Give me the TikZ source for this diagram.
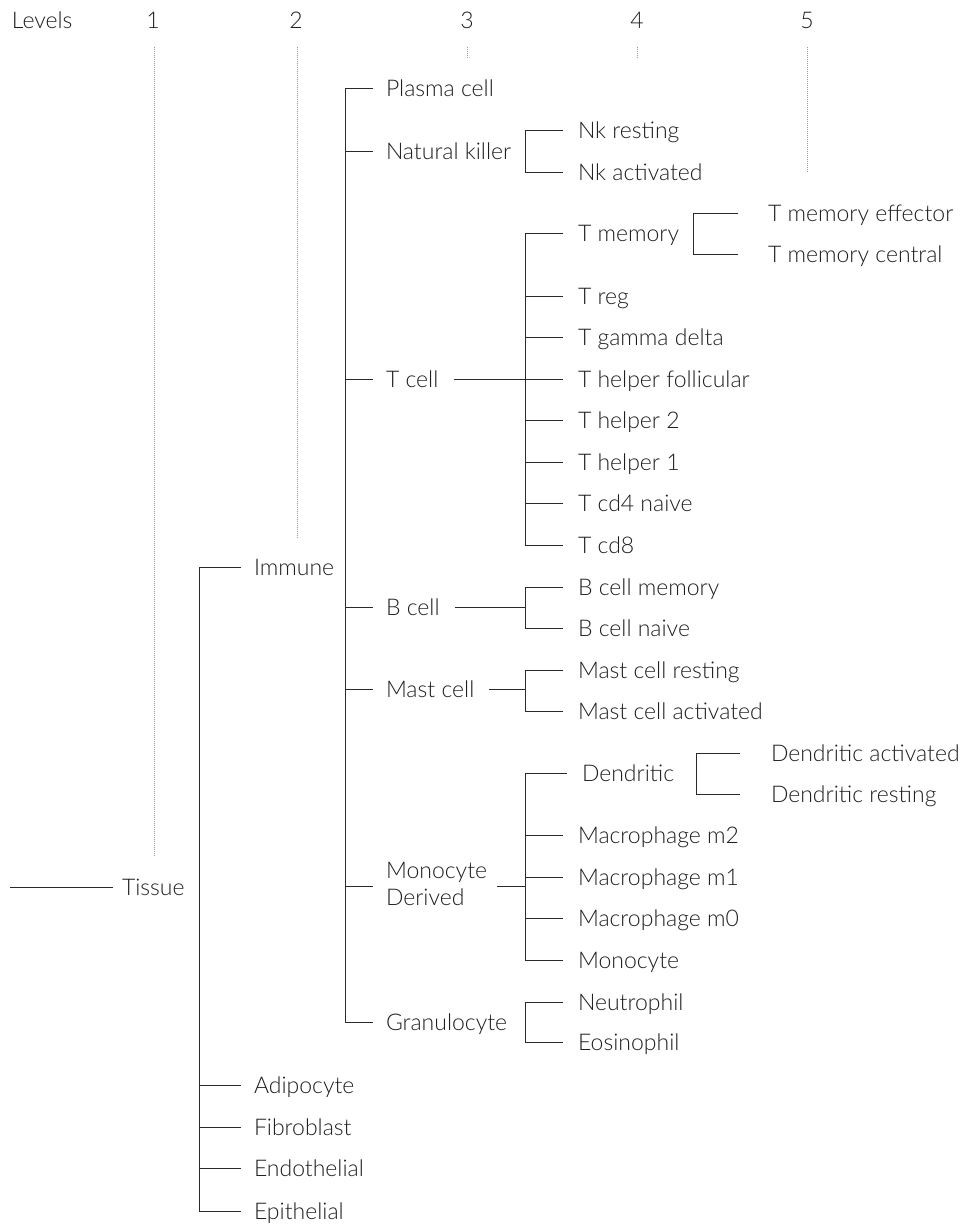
\documentclass[tikz,border=0pt]{standalone}
\usepackage{fontspec}
\setmainfont{Lato Light}
\definecolor{ink}{HTML}{1E1E1E}
\definecolor{lnk}{HTML}{2A2A2A}
\definecolor{dotc}{HTML}{999999}
\newcommand\fs{\fontsize{23}{27}\selectfont}
\begin{document}
\begin{tikzpicture}[x=1pt,y=-1pt,
  lbl/.style={anchor=west,inner sep=0pt,outer sep=0pt,text height=16.5pt,text depth=0pt,font=\fs,text=ink},
  lbltwo/.style={anchor=base west,inner sep=0pt,outer sep=0pt,align=left,font=\fs,text=ink},
  hdr/.style={anchor=center,inner sep=0pt,text height=16.5pt,text depth=0pt,font=\fs,text=ink},
  conn/.style={draw=lnk,line width=1pt},
  lvl/.style={draw=dotc,line width=1pt,dash pattern=on 1pt off 1pt}]
\useasboundingbox (0,0) rectangle (961,1226);
% headers
\node[lbl] (hL) at (12,20) {Levels};
\node[hdr] (h1) at (153,20) {1};
\node[hdr] (h2) at (296,20) {2};
\node[hdr] (h3) at (467,20) {3};
\node[hdr] (h4) at (637,20) {4};
\node[hdr] (h5) at (807,20) {5};
\coordinate (d1t) at (154,47); \coordinate (d1b) at (154,857);
\coordinate (d2t) at (297,47); \coordinate (d2b) at (297,538);
\coordinate (d3t) at (467,47); \coordinate (d3b) at (467,58);
\coordinate (d4t) at (637,47); \coordinate (d4b) at (637,58);
\coordinate (d5t) at (807,47); \coordinate (d5b) at (807,172);
\foreach \i in {1,...,5} {\draw[lvl] (d\i t) -- (d\i b);}
% spines
\coordinate (s2) at (199,0);
\coordinate (s3) at (345,0);
\coordinate (s4) at (525,0);
\coordinate (s5a) at (693,0);
\coordinate (s5b) at (696,0);
% level 1
\coordinate (root) at (10,887);
\node[lbl] (tissue) at (122,887) {Tissue};
% level 2
\node[lbl] (immune) at (254,567) {Immune};
\node[lbl] (adi) at (254,1085) {Adipocyte};
\node[lbl] (fib) at (254,1127) {Fibroblast};
\node[lbl] (endo) at (254,1168) {Endothelial};
\node[lbl] (epi) at (254,1211) {Epithelial};
% level 3
\node[lbl] (plasma) at (386,88) {Plasma cell};
\node[lbl] (nk) at (386,151) {Natural killer};
\node[lbl] (tcell) at (386,379) {T cell};
\node[lbl] (bcell) at (386,607) {B cell};
\node[lbl] (mast) at (386,689) {Mast cell};
\node[lbltwo] (mono) at (386,905) {Monocyte\\Derived};
\node[lbl] (gran) at (386,1022) {Granulocyte};
% level 4
\node[lbl] (nkr) at (578,130) {Nk resting};
\node[lbl] (nka) at (578,172) {Nk activated};
\node[lbl] (tmem) at (578,233) {T memory};
\node[lbl] (treg) at (578,296) {T reg};
\node[lbl] (tgd) at (578,337) {T gamma delta};
\node[lbl] (thf) at (578,379) {T helper follicular};
\node[lbl] (th2) at (578,420) {T helper 2};
\node[lbl] (th1) at (578,462) {T helper 1};
\node[lbl] (tcd4) at (578,503) {T cd4 naive};
\node[lbl] (tcd8) at (578,545) {T cd8};
\node[lbl] (bmem) at (578,587) {B cell memory};
\node[lbl] (bnai) at (578,628) {B cell naive};
\node[lbl] (mcr) at (578,670) {Mast cell resting};
\node[lbl] (mca) at (578,711) {Mast cell activated};
\node[lbl] (dend) at (582,773) {Dendritic};
\node[lbl] (mm2) at (578,835) {Macrophage m2};
\node[lbl] (mm1) at (578,877) {Macrophage m1};
\node[lbl] (mm0) at (578,918) {Macrophage m0};
\node[lbl] (monoc) at (578,960) {Monocyte};
\node[lbl] (neut) at (578,1002) {Neutrophil};
\node[lbl] (eos) at (578,1042) {Eosinophil};
% level 5
\node[lbl] (tme) at (768,213) {T memory effector};
\node[lbl] (tmc) at (768,254) {T memory central};
\node[lbl] (da) at (771,753) {Dendritic activated};
\node[lbl] (dr) at (771,794) {Dendritic resting};
% connectors
\draw[conn] (root) -- ([xshift=-9]tissue.west);
\draw[conn] ([xshift=-13]immune.west) -| (s2 |- epi.west) -- ([xshift=-13]epi.west);
\foreach \n in {adi,fib,endo} {\draw[conn] (s2 |- \n.west) -- ([xshift=-13]\n.west);}
\draw[conn] ([xshift=-13]plasma.west) -| (s3 |- gran.west) -- ([xshift=-13]gran.west);
\foreach \n in {nk,tcell,bcell,mast} {\draw[conn] (s3 |- \n.west) -- ([xshift=-13]\n.west);}
\coordinate (monow) at ([yshift=19]mono.base west);
\draw[conn] (s3 |- monow) -- ([xshift=-13]monow);
% NK
\draw[conn] ([xshift=-15]nkr.west) -| (s4 |- nka.west) -- ([xshift=-15]nka.west);
% T
\draw[conn] ([xshift=-15]tmem.west) -| (s4 |- tcd8.west) -- ([xshift=-15]tcd8.west);
\foreach \n in {treg,tgd,thf,th2,th1,tcd4} {\draw[conn] (s4 |- \n.west) -- ([xshift=-15]\n.west);}
\draw[conn] ([xshift=16]tcell.east) -- (s4 |- tcell.east);
% B
\draw[conn] ([xshift=-15]bmem.west) -| (s4 |- bnai.west) -- ([xshift=-15]bnai.west);
\draw[conn] ([xshift=15]bcell.east) -- (s4 |- bcell.east);
% Mast
\draw[conn] ([xshift=-15]mcr.west) -| (s4 |- mca.west) -- ([xshift=-15]mca.west);
\draw[conn] ([xshift=15]mast.east) -- (s4 |- mast.east);
% Monocyte derived
\draw[conn] ([xshift=-15]dend.west) -| (s4 |- monoc.west) -- ([xshift=-15]monoc.west);
\foreach \n in {mm2,mm1,mm0} {\draw[conn] (s4 |- \n.west) -- ([xshift=-15]\n.west);}
\coordinate (monoj) at ([xshift=111,yshift=19]mono.base west);
\draw[conn] (monoj) -- (s4 |- monoj);
% Granulocyte
\draw[conn] ([xshift=-15]neut.west) -| (s4 |- eos.west) -- ([xshift=-15]eos.west);
% level 5
\draw[conn] ([xshift=-30]tme.west) -| (s5a |- tmc.west) -- ([xshift=-30]tmc.west);
\draw[conn] ([xshift=-31]da.west) -| (s5b |- dr.west) -- ([xshift=-31]dr.west);
\end{tikzpicture}
\end{document}
